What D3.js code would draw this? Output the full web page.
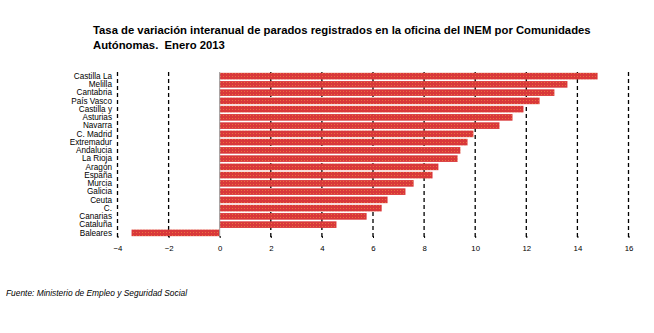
<!DOCTYPE html>
<html><head><meta charset="utf-8">
<script src="https://cdn.jsdelivr.net/npm/d3@7"></script>
<style>body{margin:0;background:#fff}svg{display:block}</style>
</head><body>
<script>
const labels = ["Castilla La","Melilla","Cantabria","País Vasco","Castilla y","Asturias","Navarra","C. Madrid","Extremadur","Andalucia","La Rioja","Aragón","España","Murcia","Galicia","Ceuta","C.","Canarias","Cataluña","Baleares"];
const values = [14.79,13.61,13.10,12.52,11.89,11.46,10.95,9.93,9.70,9.42,9.31,8.56,8.33,7.59,7.27,6.57,6.34,5.75,4.57,-3.45];
const tickValues = [-4,-2,0,2,4,6,8,10,12,14,16];
const titleLines = ["Tasa de variación interanual de parados registrados en la oficina del INEM por Comunidades","Autónomas.\u00a0 Enero 2013"];
const source = "Fuente: Ministerio de Empleo y Seguridad Social";

const W=654,H=333;
const svg=d3.select("body").append("svg").attr("width",W).attr("height",H);
const defs=svg.append("defs");
const pat=defs.append("pattern").attr("id","dots").attr("patternUnits","userSpaceOnUse").attr("width",3).attr("height",3);
pat.append("rect").attr("width",3).attr("height",3).attr("fill","#d9383a");
pat.append("rect").attr("x",1).attr("y",1).attr("width",1).attr("height",1).attr("fill","#e8703f");

const x=d3.scaleLinear().domain([-4,16]).range([117.5,628.5]);
const y=d3.scaleBand().domain(labels).range([72,237]).paddingInner(0.2).paddingOuter(0.1);

// gridlines
svg.append("g").selectAll("line").data(tickValues.filter(d=>d!==0)).join("line")
  .attr("x1",d=>x(d)).attr("x2",d=>x(d)).attr("y1",72).attr("y2",238)
  .attr("stroke","#000").attr("stroke-width",1.3).attr("stroke-dasharray","4,3");

// bars
svg.append("g").selectAll("rect").data(values).join("rect")
  .attr("x",d=>x(Math.min(0,d))).attr("width",d=>Math.abs(x(d)-x(0)))
  .attr("y",(d,i)=>y(labels[i])).attr("height",y.bandwidth())
  .attr("fill","url(#dots)");

// zero line
svg.append("line").attr("x1",x(0)).attr("x2",x(0)).attr("y1",72).attr("y2",237)
  .attr("stroke","#999").attr("stroke-width",1);

// category labels
svg.append("g").selectAll("text").data(labels).join("text")
  .attr("x",112).attr("y",d=>y(d)+y.bandwidth()/2).attr("dy","0.35em")
  .attr("text-anchor","end").attr("font-family","Liberation Sans, Arial, sans-serif")
  .attr("font-size",8.2).attr("fill","#000").text(d=>d);

// x axis
const ax=svg.append("g").attr("transform","translate(0,236)")
  .call(d3.axisBottom(x).tickValues(tickValues).tickSize(2).tickPadding(7).tickFormat(d3.format("d")));
ax.select(".domain").remove();
ax.selectAll("text").attr("font-family","Liberation Sans, Arial, sans-serif").attr("font-size",7.8).attr("fill","#000");
ax.selectAll("line").attr("stroke","#000");

// title
svg.append("g").selectAll("text").data(titleLines).join("text")
  .attr("x",93).attr("y",(d,i)=>34+i*15)
  .attr("font-family","Liberation Sans, Arial, sans-serif").attr("font-weight","bold")
  .attr("font-size",11.3).attr("fill","#000").text(d=>d);

svg.append("text").attr("x",6).attr("y",296)
  .attr("font-family","Liberation Sans, Arial, sans-serif").attr("font-style","italic")
  .attr("font-size",8.4).attr("fill","#000").text(source);
</script>
</body></html>
